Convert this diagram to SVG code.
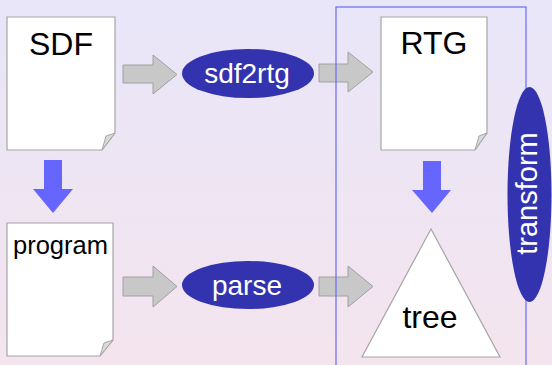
<svg xmlns="http://www.w3.org/2000/svg" width="552" height="365" viewBox="0 0 552 365">
<defs>
<linearGradient id="bg" x1="0" y1="0" x2="0" y2="1">
<stop offset="0" stop-color="#e8e6f9"/>
<stop offset="1" stop-color="#f4e4ee"/>
</linearGradient>
</defs>
<style>
.doc{fill:#fff;stroke:#a6a6a6;stroke-width:1.2}
.fold{fill:#d9d9d9;stroke:#a6a6a6;stroke-width:1}
.garrow{fill:#c8c8c8;stroke:#a0a0a0;stroke-width:1}
.barrow{fill:#6666ff;stroke:none}
.proc{fill:#3333b0}
.lbl{font-family:"Liberation Sans",Arial,sans-serif;fill:#000}
.wlbl{font-family:"Liberation Sans",Arial,sans-serif;fill:#fff;font-size:28px;text-anchor:middle}
.frame{fill:none;stroke:#6a6af2;stroke-width:1.2}
</style>
<rect width="552" height="365" fill="url(#bg)"/>
<g id="connectors">
<path class="garrow" d="M123,65 H153 V55 L177,74.5 L153,94 V83 H123 Z"/>
<path class="garrow" d="M319,64 H348 V52 L373,72 L348,92 V82 H319 Z"/>
<path class="garrow" d="M123,277 H153 V266 L177,286.5 L153,307 V296 H123 Z"/>
<path class="garrow" d="M319,277 H348 V266 L373,286.5 L348,307 V296 H319 Z"/>
<path class="barrow" d="M44,160 H62 V189 H73 L53,213 L33,189 H44 Z"/>
<path class="barrow" d="M423,161 H441 V190 H451 L432,213 L412,190 H423 Z"/>
</g>
<g id="frame">
<rect class="frame" x="336" y="7" width="190" height="380"/>
</g>
<g id="sdf">
<path class="doc" d="M7,17 H115 V133 L102,150 H7 Z"/>
<path class="fold" d="M102,150 L115,133 L106,136 Z"/>
<text class="lbl" x="61" y="55" font-size="32" text-anchor="middle">SDF</text>
</g>
<g id="program">
<path class="doc" d="M7,223 H113 V340 L100,356 H7 Z"/>
<path class="fold" d="M100,356 L113,340 L104,343 Z"/>
<text class="lbl" x="13" y="254" font-size="25.5">program</text>
</g>
<g id="rtg">
<path class="doc" d="M381,17 H487 V133 L475,150 H381 Z"/>
<path class="fold" d="M475,150 L487,133 L479,136 Z"/>
<text class="lbl" x="434" y="54" font-size="32" text-anchor="middle">RTG</text>
</g>
<g id="tree">
<path class="doc" d="M431,229 L500,357 H362 Z"/>
<text class="lbl" x="430" y="328" font-size="32" text-anchor="middle">tree</text>
</g>
<g id="sdf2rtg">
<ellipse class="proc" cx="248" cy="73.5" rx="66" ry="24.5"/>
<text class="wlbl" x="247" y="83">sdf2rtg</text>
</g>
<g id="parse">
<ellipse class="proc" cx="248" cy="285" rx="66" ry="24"/>
<text class="wlbl" x="247" y="295">parse</text>
</g>
<g id="transform">
<ellipse class="proc" cx="529.5" cy="194.5" rx="22" ry="107.5"/>
<text class="wlbl" font-size="29" transform="translate(537,193.5) rotate(-90)" style="font-size:29px">transform</text>
</g>
</svg>
